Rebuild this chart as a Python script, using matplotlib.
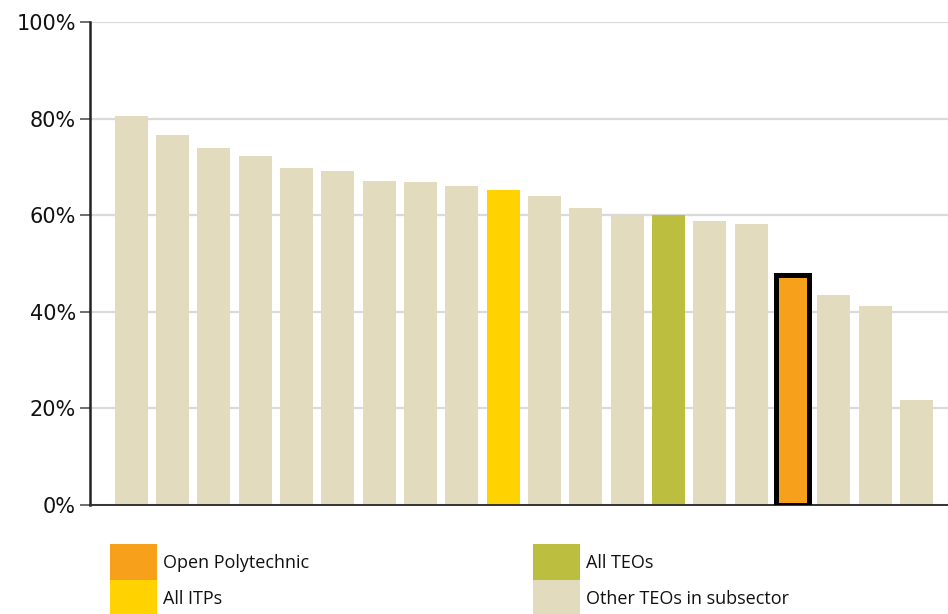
import numpy as np
import matplotlib
matplotlib.use("Agg")
import matplotlib.pyplot as plt
from matplotlib.patches import Rectangle

# ---------------------------------------------------------------
# Data
# ---------------------------------------------------------------
values = [80.5, 76.6, 73.9, 72.3, 69.8, 69.2, 67.1, 66.9, 66.0, 65.2,
          64.0, 61.5, 60.0, 60.0, 58.8, 58.2, 47.7, 43.5, 41.2, 21.7]
groups = ["other"] * 9 + ["itp"] + ["other"] * 3 + ["all"] + ["other"] * 2 + ["op"] + ["other"] * 3

legend_labels = ["Open Polytechnic", "All ITPs", "All TEOs", "Other TEOs in subsector"]
legend_keys = ["op", "itp", "all", "other"]
y_ticks = [0, 20, 40, 60, 80, 100]

colors = {"other": "#E2DBBD", "itp": "#FFD200", "all": "#BBBE3F", "op": "#F7A01B"}

# ---------------------------------------------------------------
# Plot
# ---------------------------------------------------------------
fig = plt.figure(figsize=(9.48, 6.14), dpi=100)
ax = fig.add_axes([0.0949, 0.1775, 0.9051, 0.7867])

x = np.arange(len(values))
bars = ax.bar(x, values, width=0.8, color=[colors[g] for g in groups], zorder=2)
for b, g in zip(bars, groups):
    if g == "op":
        b.set_edgecolor("black")
        b.set_linewidth(3.6)
        b.set_zorder(3)

ax.set_xlim(-1.0, 19.76)
ax.set_ylim(0, 100)
ax.set_yticks(y_ticks)
ax.set_yticklabels([f"{t}%" for t in y_ticks], fontsize=15, color="#111111")
ax.set_xticks([])
ax.yaxis.grid(True, color="#DADADA", lw=1.6, zorder=0)
ax.tick_params(axis="y", length=7, width=1.2, color="#555555", pad=3)

for s in ["top", "right"]:
    ax.spines[s].set_visible(False)
ax.spines["left"].set_linewidth(1.8)
ax.spines["left"].set_color("#222222")
ax.spines["bottom"].set_linewidth(1.4)
ax.spines["bottom"].set_color("#333333")

# legend drawn manually, two columns
W, H = 948.0, 614.0
legend_pos = [(110, 544), (110, 580), (533, 544), (533, 580)]
for (px, py), key, label in zip(legend_pos, legend_keys, legend_labels):
    fig.add_artist(Rectangle((px / W, 1 - (py + 36) / H), 47 / W, 36 / H,
                             transform=fig.transFigure, color=colors[key], lw=0))
    fig.text((px + 53) / W, 1 - (py + 19) / H, label, fontsize=13,
             va="center", ha="left", family="Open Sans", color="#111111")

fig.savefig("out.png", dpi=100)
